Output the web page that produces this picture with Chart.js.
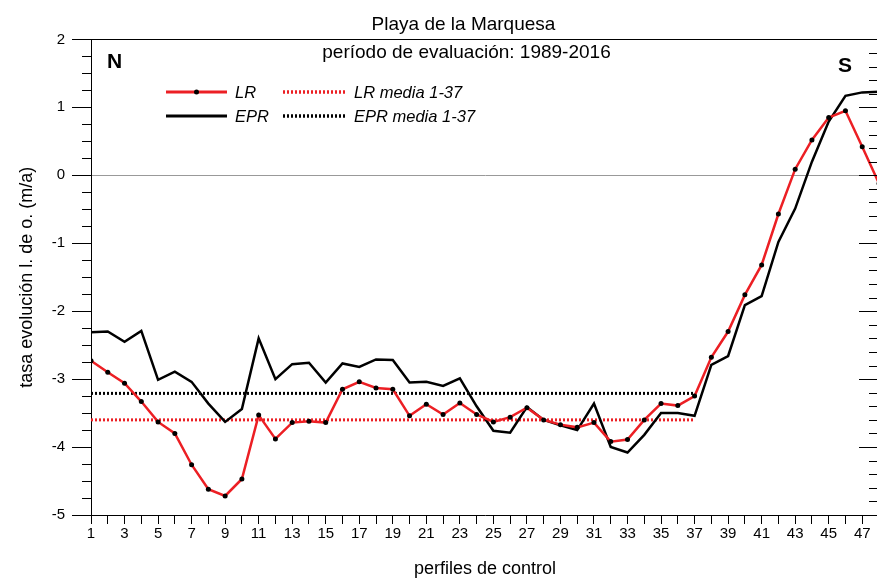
<!DOCTYPE html>
<html>
<head>
<meta charset="utf-8">
<script src="https://cdn.jsdelivr.net/npm/chart.js@4.4.1/dist/chart.umd.min.js"></script>
<style>
  html, body { margin: 0; padding: 0; overflow: hidden; background: #fff; }
  #wrap { width: 883px; height: 580px; }
</style>
</head>
<body>
<div id="wrap"><canvas id="c" width="883" height="580"></canvas></div>
<script>
// ---- data ----
const profiles = [1,2,3,4,5,6,7,8,9,10,11,12,13,14,15,16,17,18,19,20,21,22,23,24,25,26,27,28,29,30,31,32,33,34,35,36,37,38,39,40,41,42,43,44,45,46,47,48];
const lrValues = [-2.73,-2.90,-3.06,-3.33,-3.63,-3.80,-4.26,-4.62,-4.72,-4.47,-3.53,-3.88,-3.64,-3.62,-3.64,-3.15,-3.04,-3.13,-3.15,-3.54,-3.37,-3.52,-3.35,-3.52,-3.63,-3.56,-3.42,-3.60,-3.67,-3.71,-3.64,-3.92,-3.89,-3.60,-3.36,-3.39,-3.25,-2.68,-2.30,-1.76,-1.32,-0.57,0.09,0.52,0.85,0.95,0.42,-0.12];
const eprValues = [-2.31,-2.30,-2.45,-2.29,-3.01,-2.89,-3.04,-3.36,-3.63,-3.44,-2.40,-3.00,-2.78,-2.76,-3.05,-2.77,-2.82,-2.71,-2.72,-3.05,-3.04,-3.10,-2.99,-3.40,-3.76,-3.79,-3.41,-3.60,-3.68,-3.75,-3.36,-4.00,-4.08,-3.82,-3.50,-3.50,-3.54,-2.79,-2.66,-1.91,-1.78,-0.98,-0.49,0.20,0.79,1.17,1.22,1.23];
const meanRange = [1, 37];
const lrMean = -3.60;
const eprMean = -3.21;
const seriesLabels = ['LR', 'EPR', 'LR media 1-37', 'EPR media 1-37'];
const titleText = 'Playa de la Marquesa';
const subtitleText = 'período de evaluación: 1989-2016';
const yTitle = 'tasa evolución l. de o. (m/a)';
const xTitle = 'perfiles de control';
const yMin = -5, yMax = 2;

const FONT = '"Liberation Sans", Arial, sans-serif';
const RED = '#ec1f24';

const toPts = (vals) => profiles.map((p, i) => ({x: p, y: vals[i]}));

const decorPlugin = {
  id: 'decor',
  afterDraw(chart) {
    const {ctx, chartArea: a, scales: {x, y}} = chart;
    ctx.save();
    // frame top & right
    ctx.strokeStyle = '#000';
    ctx.lineWidth = 1;
    ctx.beginPath();
    ctx.moveTo(a.left, Math.round(a.top) + 0.5);
    ctx.lineTo(a.right, Math.round(a.top) + 0.5);
    ctx.moveTo(a.right - 0.5, a.top);
    ctx.lineTo(a.right - 0.5, a.bottom);
    ctx.stroke();
    // minor ticks left (0.25) and right (0.2), major right
    ctx.beginPath();
    for (let i = 0; i <= (yMax - yMin) * 4; i++) {
      if (i % 4 === 0) continue;
      const py = Math.round(y.getPixelForValue(yMin + i * 0.25)) + 0.5;
      ctx.moveTo(a.left - 9, py); ctx.lineTo(a.left, py);
    }
    for (let i = 0; i <= (yMax - yMin) * 5; i++) {
      const py = Math.round(y.getPixelForValue(yMin + i * 0.2)) + 0.5;
      const len = (i % 5 === 0) ? 20 : 10;
      ctx.moveTo(a.right - len, py); ctx.lineTo(a.right, py);
    }
    ctx.stroke();

    // titles
    ctx.fillStyle = '#000';
    ctx.textAlign = 'center';
    ctx.textBaseline = 'alphabetic';
    ctx.font = '19px ' + FONT;
    ctx.fillText(titleText, 463.5, 29.5);
    ctx.fillText(subtitleText, 466.5, 58);
    ctx.font = 'bold 21px ' + FONT;
    ctx.textAlign = 'left';
    ctx.fillText('N', 107, 68);
    ctx.fillText('S', 838, 72);

    // legend
    const ds = chart.data.datasets;
    const items = [
      {d: ds[0], x0: 166, x1: 227, tx: 235, y: 92, by: 98},
      {d: ds[1], x0: 166, x1: 227, tx: 235, y: 116, by: 122},
      {d: ds[2], x0: 283, x1: 347, tx: 354, y: 92, by: 98},
      {d: ds[3], x0: 283, x1: 347, tx: 354, y: 116, by: 122}
    ];
    ctx.font = 'italic 16.5px ' + FONT;
    items.forEach(it => {
      ctx.save();
      ctx.strokeStyle = it.d.borderColor;
      ctx.lineWidth = it.d.borderWidth + 0.5;
      ctx.setLineDash(it.d.borderDash || []);
      ctx.beginPath();
      ctx.moveTo(it.x0, it.y); ctx.lineTo(it.x1, it.y);
      ctx.stroke();
      ctx.restore();
      if (it.d.pointRadius > 0) {
        ctx.fillStyle = it.d.pointBackgroundColor;
        ctx.beginPath();
        ctx.arc((it.x0 + it.x1) / 2, it.y, it.d.pointRadius, 0, Math.PI * 2);
        ctx.fill();
      }
      ctx.fillStyle = '#000';
      ctx.fillText(it.d.label, it.tx, it.by);
    });
    ctx.restore();
  }
};

new Chart(document.getElementById('c'), {
  type: 'line',
  data: {
    datasets: [
      { label: seriesLabels[0], data: toPts(lrValues), borderColor: RED, borderWidth: 2.5,
        pointRadius: 2.5, pointBackgroundColor: '#000', pointBorderWidth: 0, tension: 0 },
      { label: seriesLabels[1], data: toPts(eprValues), borderColor: '#000', borderWidth: 2.5,
        pointRadius: 0, tension: 0 },
      { label: seriesLabels[2], data: meanRange.map(p => ({x: p, y: lrMean})), borderColor: RED,
        borderWidth: 3, borderDash: [2, 2], pointRadius: 0 },
      { label: seriesLabels[3], data: meanRange.map(p => ({x: p, y: eprMean})), borderColor: '#000',
        borderWidth: 3, borderDash: [2, 2], pointRadius: 0 }
    ]
  },
  options: {
    responsive: false,
    animation: false,
    devicePixelRatio: 1,
    layout: { padding: { top: 39.4, left: 0, right: 0, bottom: 0 } },
    plugins: { legend: { display: false }, tooltip: { enabled: false }, title: { display: false } },
    scales: {
      x: {
        type: 'linear', min: 1, max: 48,
        afterFit(s) { s.height = 65; },
        ticks: { stepSize: 1, autoSkip: false, maxRotation: 0, padding: 1,
          color: '#000', font: { family: FONT, size: 15 },
          callback: v => (v % 2 === 1 ? String(v) : '') },
        grid: { drawOnChartArea: false, tickLength: 9, color: '#000' },
        border: { display: true, color: '#000', width: 1 },
        title: { display: true, text: xTitle, color: '#000', font: { family: FONT, size: 18 }, padding: { top: 0, bottom: 0 } }
      },
      y: {
        type: 'linear', min: yMin, max: yMax,
        afterFit(s) { s.width = 91; },
        ticks: { stepSize: 1, padding: 7, color: '#000', font: { family: FONT, size: 15 } },
        grid: { drawOnChartArea: true, tickLength: 19, tickColor: '#000',
          color: c => (c.tick && c.tick.value === 0 ? '#999' : 'rgba(0,0,0,0)') },
        border: { display: true, color: '#000', width: 1 },
        title: { display: true, text: yTitle, color: '#000', font: { family: FONT, size: 18 }, padding: { top: 16, bottom: 0 } }
      }
    }
  },
  plugins: [decorPlugin]
});
</script>
</body>
</html>
